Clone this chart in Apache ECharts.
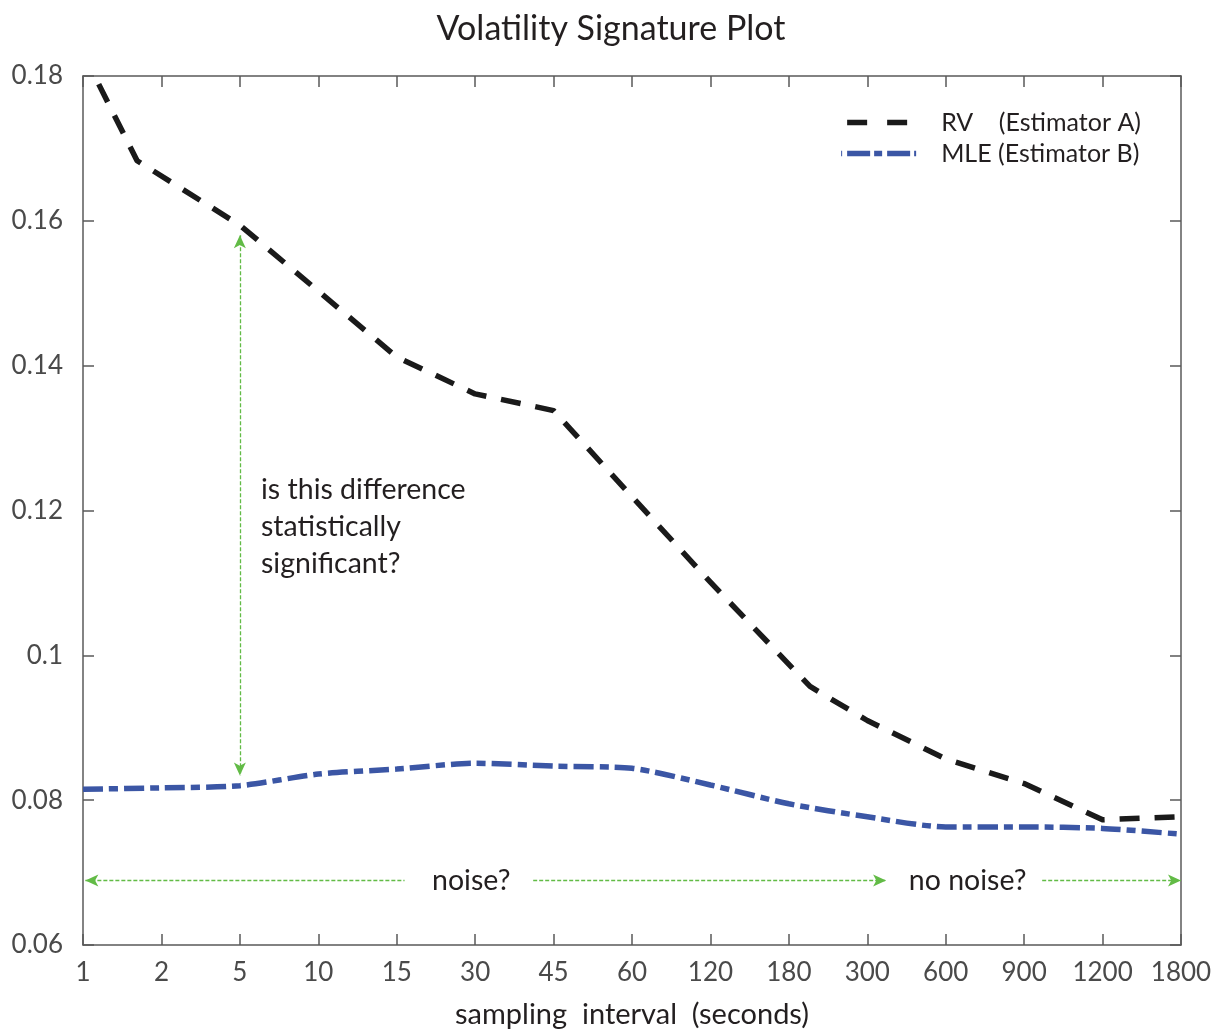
<!DOCTYPE html>
<html>
<head>
<meta charset="utf-8">
<title>Volatility Signature Plot</title>
<script src="https://cdn.jsdelivr.net/npm/echarts@6/dist/echarts.min.js"></script>
<style>
html,body{margin:0;padding:0;background:#fff;}
#main{width:1222px;height:1034px;}
</style>
</head>
<body>
<div id="main"></div>
<script>
/* data */
var intervals=['1','2','5','10','15','30','45','60','120','180','300','600','900','1200','1800'];
// RV: x = position on the interval axis (0 = "1"), some kinks sit between ticks
var rvX=[0,0.69,2,3,4,5,6,7,8,9.27,10,11,12,13,14];
var rvY=[0.1832,0.1683,0.1594,0.1503,0.1412,0.1361,0.1338,0.1219,0.1101,0.0957,0.0910,0.0857,0.0823,0.0773,0.0777];
var mleY=[0.0815,0.0817,0.0820,0.0836,0.0843,0.0851,0.0847,0.0844,0.0821,0.0795,0.0777,0.0763,0.0763,0.0761,0.0753];
var yTicks=[0.06,0.08,0.1,0.12,0.14,0.16,0.18];

var rvData=[],mleData=[];
for(var i=0;i<rvX.length;i++){rvData.push([rvX[i],rvY[i]]);}
for(var j=0;j<mleY.length;j++){mleData.push([j,mleY[j]]);}

var font='Lato';
var txt='#231f20';
var green='#62bb46';
var axisCol='#5a5a5a';
var rvLine={color:'#1a1a1a',width:5.5,type:[20,15],cap:'butt',join:'round'};
var mleLine={color:'#3b56a5',width:5.5,type:[20,6,9,6],cap:'butt'};

var myChart=echarts.init(document.getElementById('main'),null,{renderer:'canvas'});
var boxAxis=function(pos,isX,showLabel){
	var a={
		type:'value',
		position:pos,
		min:isX?0:yTicks[0],
		max:isX?intervals.length-1:yTicks[yTicks.length-1],
		interval:isX?1:0.02,
		axisLine:{show:true,onZero:false,lineStyle:{color:axisCol,width:1.5}},
		axisTick:{show:true,inside:true,length:11,lineStyle:{color:axisCol,width:1.5}},
		splitLine:{show:false},
		axisLabel:{show:showLabel}
	};
	return a;
};
var xBottom=boxAxis('bottom',true,true);
xBottom.axisLabel={show:true,margin:15,fontFamily:font,fontSize:26,color:'#4a4a4a',showMinLabel:true,showMaxLabel:true,
	formatter:function(v){return intervals[Math.round(v)];}};
xBottom.name='sampling  interval  (seconds)';
xBottom.nameLocation='middle';
xBottom.nameGap=55;
xBottom.nameTextStyle={fontFamily:font,fontSize:29,color:txt};
var yLeft=boxAxis('left',false,true);
yLeft.axisLabel={show:true,margin:20,fontFamily:font,fontSize:26,color:'#4a4a4a',showMinLabel:true,showMaxLabel:true,
	formatter:function(v){return String(+v.toFixed(2));}};

var arrowLine={color:green,width:1.3,type:[4,2]};
var option={
	backgroundColor:'#fff',
	animation:false,
	title:{text:'Volatility Signature Plot',left:'center',top:7,
		textStyle:{fontFamily:font,fontSize:34,fontWeight:'normal',color:txt}},
	legend:{
		orient:'vertical',right:76,top:105,itemWidth:75,itemHeight:14,itemGap:6,
		textStyle:{fontFamily:font,fontSize:25,color:txt,padding:[0,0,0,20]},
		itemStyle:{opacity:0},
		formatter:function(n){return n==='RV'?'RV    (Estimator A)':'MLE (Estimator B)';},
		data:[
			{name:'RV',lineStyle:{color:'#1a1a1a',width:5.5,type:[20,20],dashOffset:34,cap:'butt'}},
			{name:'MLE',lineStyle:{color:'#3b56a5',width:5.5,type:[23,4,8,5],cap:'butt'}}
		]
	},
	grid:{left:83,right:41,top:76,bottom:89,containLabel:false,outerBoundsMode:'none'},
	xAxis:[xBottom,boxAxis('top',true,false)],
	yAxis:[yLeft,boxAxis('right',false,false)],
	series:[
		{
			name:'RV',type:'line',data:rvData,symbol:'none',clip:true,
			lineStyle:rvLine,
			itemStyle:{color:'#1a1a1a'},
			z:3
		},
		{
			name:'MLE',type:'line',data:mleData,symbol:'none',smooth:0.25,
			lineStyle:mleLine,
			itemStyle:{color:'#3b56a5'},
			z:4,
			markLine:{
				silent:true,symbolSize:[9,13],
				label:{show:false},
				lineStyle:arrowLine,
				data:[
					[{coord:[2,0.1580],symbol:'arrow'},{coord:[2,0.0834],symbol:'arrow'}],
					[{coord:[0.03,0.0689],symbol:'arrow'},{coord:[4.1,0.0689],symbol:'none'}],
					[{coord:[5.74,0.0689],symbol:'none'},{coord:[10.24,0.0689],symbol:'arrow'}],
					[{coord:[12.23,0.0689],symbol:'none'},{coord:[14,0.0689],symbol:'arrow'}]
				]
			},
			markPoint:{
				silent:true,symbol:'circle',symbolSize:1,itemStyle:{color:'rgba(0,0,0,0)'},
				label:{show:true,position:'inside',fontFamily:font,fontSize:28.5,color:txt},
				data:[
					{coord:[2.27,0.1178],label:{align:'left',verticalAlign:'middle',lineHeight:37,
						formatter:'is this difference\nstatistically\nsignificant?'}},
					{coord:[4.95,0.0689],label:{align:'center',verticalAlign:'middle',formatter:'noise?'}},
					{coord:[11.28,0.0689],label:{align:'center',verticalAlign:'middle',formatter:'no noise?'}}
				]
			}
		}
	]
};
myChart.setOption(option);
</script>
</body>
</html>
